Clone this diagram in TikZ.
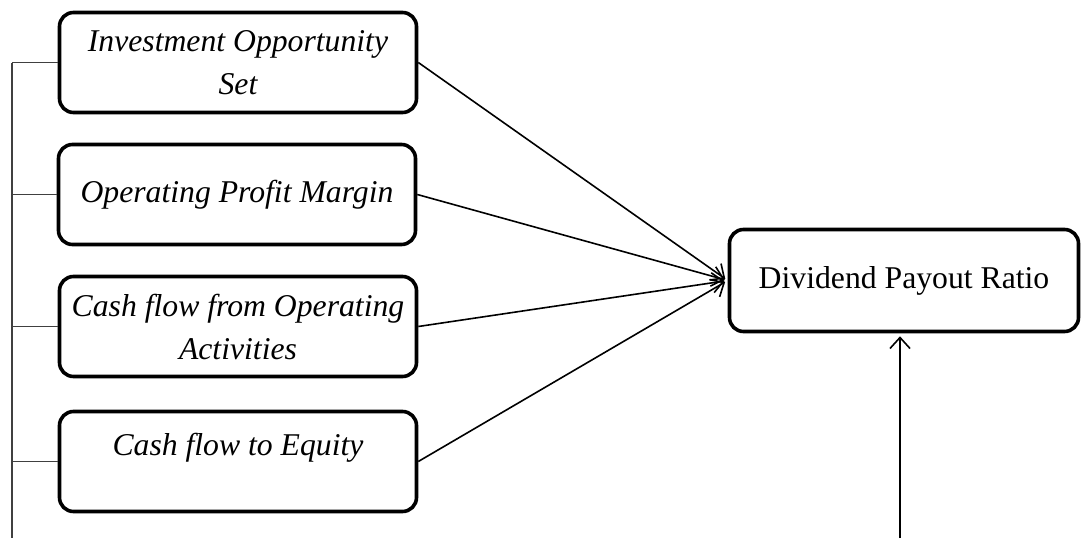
\documentclass[tikz,border=0pt]{standalone}
\usepackage{fontspec}
\setmainfont{Liberation Serif}
\usetikzlibrary{arrows.meta}
\begin{document}
\begin{tikzpicture}[x=1pt,y=-1pt,line join=round,
    factor/.style={draw,line width=3.6pt,rounded corners=14pt,minimum width=357pt,minimum height=100pt,align=center,
      font=\fontsize{31.7}{43}\selectfont\itshape},
    link/.style={line width=1.6pt,-{Straight Barb[length=11pt,width=20pt,line width=1.6pt]},shorten >=3pt}]
  \useasboundingbox (0,0) rectangle (1081,538);
  \node[factor] (ios) at (238,62.5) {Investment Opportunity\\Set};
  \node[factor] (opm) at (237,194.5) {Operating Profit Margin};
  \node[factor] (cfo) at (238,326.5) {Cash flow from Operating\\Activities};
  \node[factor] (cfe) at (238,461.5) {Cash flow to Equity\\[-8pt]\mbox{}};
  \node[factor,font=\fontsize{31.7}{43}\selectfont,minimum width=349pt,minimum height=102pt] (dpr) at (904,280.5) {Dividend Payout Ratio};
  \coordinate (top) at (12,0|-ios.west);
  \coordinate (bot) at (12,538);
  \coordinate (ctl) at (900,538);
  \draw[line width=1.6pt,black!75] (top) -- (bot)
    (top) -- (ios.west) (12,0|-opm.west) -- (opm.west)
    (12,0|-cfo.west) -- (cfo.west) (12,0|-cfe.west) -- (cfe.west);
  \foreach \f in {ios,opm,cfo,cfe}
    \draw[link] (\f.east) -- (dpr.west);
  \draw[link] (ctl) -- (dpr.south -| ctl);
\end{tikzpicture}
\end{document}
